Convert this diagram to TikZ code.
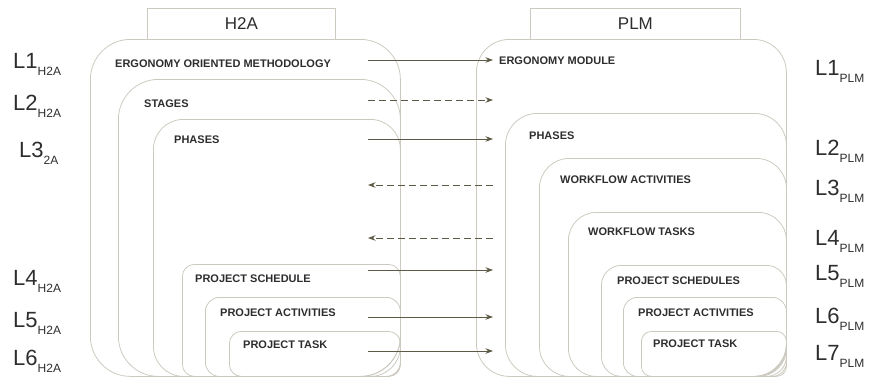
\documentclass[tikz,border=0pt]{standalone}
\usepackage{fontspec}
\setmainfont{Liberation Sans}
\usepackage{xcolor}
\usepackage{tikz}
\usetikzlibrary{arrows.meta, positioning}
\definecolor{framecolor}{RGB}{204, 202, 192}
\definecolor{linkcolor}{RGB}{92, 90, 68}
\definecolor{inkcolor}{RGB}{45, 45, 45}
\tikzstyle{layer} = [rectangle, draw=framecolor, line width=0.8pt, anchor=north west, inner sep=0pt]
\tikzstyle{header} = [rectangle, draw=framecolor, fill=white, line width=0.8pt, anchor=north west, inner sep=0pt, text=inkcolor, font=\fontsize{17}{17}\selectfont]
\tikzstyle{caption} = [anchor=west, inner sep=0pt, text=inkcolor, font=\bfseries\fontsize{11}{11}\selectfont]
\tikzstyle{levelname} = [anchor=base west, inner sep=0pt, text=inkcolor, font=\fontsize{22}{22}\selectfont]
\tikzstyle{maps} = [linkcolor, line width=0.85pt, -{Stealth[length=7.5pt, width=5.5pt]}]
\tikzstyle{weakmaps} = [maps, dash pattern=on 7pt off 4pt]
\newcommand{\lvl}[2]{L#1\raisebox{-7pt}{\fontsize{12}{12}\selectfont #2}}

\begin{document}
\begin{tikzpicture}[x=1pt, y=-1pt]
    \useasboundingbox (0,0) rectangle (877,378);

    % H2A layers
    \node[layer, rounded corners=40pt, minimum width=310pt, minimum height=337pt] (h1) at (90,39) {};
    \node[layer, rounded corners=40pt, minimum width=282pt, minimum height=297pt] (h2) at (118,79) {};
    \node[layer, rounded corners=30pt, minimum width=247pt, minimum height=257pt] (h3) at (153,119) {};
    \node[layer, rounded corners=12pt, minimum width=218pt, minimum height=112pt] (h4) at (182,264) {};
    \node[layer, rounded corners=14pt, minimum width=195pt, minimum height=79pt] (h5) at (205,297) {};
    \node[layer, rounded corners=12pt, minimum width=171pt, minimum height=45pt] (h6) at (229,331) {};

    \node[caption] (h1txt) at (115,64) {ERGONOMY ORIENTED METHODOLOGY};
    \node[caption] (h2txt) at (144,104) {STAGES};
    \node[caption] (h3txt) at (174,140) {PHASES};
    \node[caption] (h4txt) at (195,279) {PROJECT SCHEDULE};
    \node[caption] (h5txt) at (220,313) {PROJECT ACTIVITIES};
    \node[caption] (h6txt) at (243,345) {PROJECT TASK};

    % PLM layers
    \node[layer, rounded corners=33pt, minimum width=310pt, minimum height=337pt] (p1) at (476,39) {};
    \node[layer, rounded corners=32pt, minimum width=281pt, minimum height=263pt] (p2) at (505,113) {};
    \node[layer, rounded corners=30pt, minimum width=247pt, minimum height=218pt] (p3) at (539,158) {};
    \node[layer, rounded corners=28pt, minimum width=218pt, minimum height=164pt] (p4) at (568,212) {};
    \node[layer, rounded corners=20pt, minimum width=185pt, minimum height=111pt] (p5) at (601,265) {};
    \node[layer, rounded corners=14pt, minimum width=163pt, minimum height=79pt] (p6) at (623,297) {};
    \node[layer, rounded corners=10pt, minimum width=145pt, minimum height=45pt] (p7) at (641,331) {};

    \node[caption] (p1txt) at (499,61) {ERGONOMY MODULE};
    \node[caption] (p2txt) at (529,136) {PHASES};
    \node[caption] (p3txt) at (560,180) {WORKFLOW ACTIVITIES};
    \node[caption] (p4txt) at (588,232) {WORKFLOW TASKS};
    \node[caption] (p5txt) at (617,281) {PROJECT SCHEDULES};
    \node[caption] (p6txt) at (638,313) {PROJECT ACTIVITIES};
    \node[caption] (p7txt) at (653,344) {PROJECT TASK};

    % Headers
    \node[header, minimum width=188pt, minimum height=31pt] (h2a) at (147,8) {};
    \node (h2atxt) at (h2a.center) [text=inkcolor, font=\fontsize{17}{17}\selectfont] {H2A};
    \node[header, minimum width=210pt, minimum height=31pt] (plm) at (530,8) {};
    \node (plmtxt) at (plm.center) [text=inkcolor, font=\fontsize{17}{17}\selectfont] {PLM};

    % Level names
    \node[levelname] (lh1) at (13,68) {\lvl{1}{H2A}};
    \node[levelname] (lh2) at (13,110) {\lvl{2}{H2A}};
    \node[levelname] (lh3) at (19,157) {\lvl{3}{2A}};
    \node[levelname] (lh4) at (13,285) {\lvl{4}{H2A}};
    \node[levelname] (lh5) at (13,327) {\lvl{5}{H2A}};
    \node[levelname] (lh6) at (13,365) {\lvl{6}{H2A}};

    \node[levelname] (lp1) at (815,75) {\lvl{1}{PLM}};
    \node[levelname] (lp2) at (815,155) {\lvl{2}{PLM}};
    \node[levelname] (lp3) at (815,195) {\lvl{3}{PLM}};
    \node[levelname] (lp4) at (815,245) {\lvl{4}{PLM}};
    \node[levelname] (lp5) at (815,280) {\lvl{5}{PLM}};
    \node[levelname] (lp6) at (815,323) {\lvl{6}{PLM}};
    \node[levelname] (lp7) at (815,360) {\lvl{7}{PLM}};

    % Mapping ends
    \coordinate (m1a) at (368,60);  \coordinate (m1b) at (493,60);
    \coordinate (m2a) at (368,100); \coordinate (m2b) at (493,100);
    \coordinate (m3a) at (368,139); \coordinate (m3b) at (493,139);
    \coordinate (m4a) at (368,185); \coordinate (m4b) at (493,185);
    \coordinate (m5a) at (368,238); \coordinate (m5b) at (493,238);
    \coordinate (m6a) at (368,270); \coordinate (m6b) at (493,270);
    \coordinate (m7a) at (368,317); \coordinate (m7b) at (493,317);
    \coordinate (m8a) at (368,351); \coordinate (m8b) at (493,351);

    % Mappings
    \draw[maps] (m1a) -- (m1b);
    \draw[weakmaps] (m2a) -- (m2b);
    \draw[maps] (m3a) -- (m3b);
    \draw[weakmaps] (m4b) -- (m4a);
    \draw[weakmaps] (m5b) -- (m5a);
    \draw[maps] (m6a) -- (m6b);
    \draw[maps] (m7a) -- (m7b);
    \draw[maps] (m8a) -- (m8b);
\end{tikzpicture}
\end{document}
